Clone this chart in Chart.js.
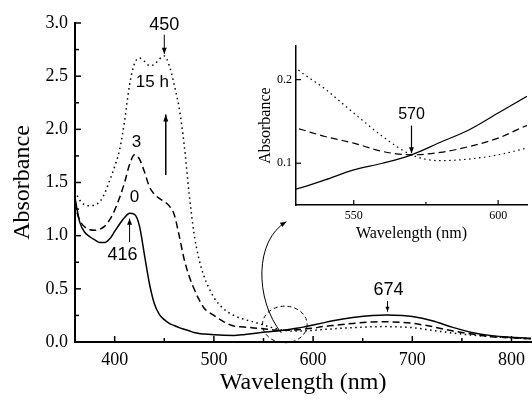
<!DOCTYPE html>
<html>
<head>
<meta charset="utf-8">
<script src="https://cdn.jsdelivr.net/npm/chart.js@4.4.1/dist/chart.umd.min.js"></script>
<style>
  html, body { margin: 0; padding: 0; background: #fff; }
  #wrap { position: relative; width: 532px; height: 404px; overflow: hidden; }
  #mainChart { position: absolute; left: 0; top: 0; }
  #insetChart { position: absolute; left: 250px; top: 35px; }
</style>
</head>
<body>
<div id="wrap">
  <canvas id="mainChart" width="532" height="404"></canvas>
  <canvas id="insetChart" width="282" height="212"></canvas>
</div>
<script>
// --- DATA ---
const wavelength = [360, 362, 365, 370, 375, 380, 385, 390, 395, 400, 405, 410, 415, 420, 425, 430, 435, 440, 445, 450,
  455, 460, 465, 470, 475, 480, 485, 490, 500, 510, 520, 530, 540, 550, 560, 570, 580, 590, 600, 610,
  620, 640, 660, 674, 690, 700, 720, 740, 760, 780, 800, 820];

// 0 h (solid)
const abs0h = [1.36, 1.25, 1.12, 1.03, 0.99, 0.96, 0.935, 0.935, 0.97, 1.04, 1.11, 1.17, 1.21, 1.2, 1.09, 0.82, 0.55, 0.36, 0.26, 0.21,
  0.175, 0.155, 0.135, 0.12, 0.105, 0.09, 0.08, 0.075, 0.068, 0.063, 0.062, 0.069, 0.08, 0.092, 0.1, 0.11, 0.125, 0.14, 0.16, 0.18,
  0.2, 0.23, 0.25, 0.255, 0.25, 0.24, 0.2, 0.14, 0.09, 0.06, 0.045, 0.035];

// 3 h (dashed)
const abs3h = [1.32, 1.22, 1.14, 1.08, 1.055, 1.05, 1.06, 1.09, 1.15, 1.24, 1.36, 1.5, 1.67, 1.76, 1.72, 1.6, 1.46, 1.39, 1.35, 1.32,
  1.28, 1.2, 1.0, 0.78, 0.62, 0.5, 0.4, 0.32, 0.25, 0.19, 0.15, 0.142, 0.132, 0.124, 0.114, 0.11, 0.113, 0.12, 0.13, 0.145,
  0.155, 0.175, 0.188, 0.19, 0.185, 0.176, 0.145, 0.105, 0.075, 0.05, 0.04, 0.03];

// 15 h (dotted)
const abs15h = [1.42, 1.38, 1.33, 1.29, 1.28, 1.29, 1.32, 1.4, 1.52, 1.65, 1.81, 2.08, 2.42, 2.62, 2.67, 2.64, 2.6, 2.61, 2.66, 2.69,
  2.6, 2.42, 2.2, 1.86, 1.4, 1.02, 0.78, 0.62, 0.42, 0.31, 0.25, 0.214, 0.189, 0.16, 0.132, 0.11, 0.103, 0.105, 0.11, 0.118,
  0.124, 0.135, 0.143, 0.145, 0.14, 0.135, 0.11, 0.085, 0.065, 0.05, 0.04, 0.03];

const xTicks = [400, 500, 600, 700, 800];
const xMinorTicks = [450, 550, 650, 750];
const yTicks = [0, 0.5, 1, 1.5, 2, 2.5, 3];
const yMinorTicks = [0.25, 0.75, 1.25, 1.75, 2.25, 2.75];

const insetXTicks = [550, 600];
const insetXMinorTicks = [575];
const insetYTicks = [0.1, 0.2];

const SERIF = "'Liberation Serif', 'Times New Roman', serif";
const SANS = "'Liberation Sans', Arial, sans-serif";

function pts(ys) {
  return wavelength.map((w, i) => ({ x: w, y: ys[i] }));
}

function makeDatasets(width) {
  return [
    { label: '0 h', data: pts(abs0h), borderColor: '#000', borderWidth: width, borderDash: [] },
    { label: '3 h', data: pts(abs3h), borderColor: '#000', borderWidth: width, borderDash: [7, 4] },
    { label: '15 h', data: pts(abs15h), borderColor: '#000', borderWidth: width, borderDash: [1.5, 3.5] }
  ].map(d => Object.assign(d, { pointRadius: 0, cubicInterpolationMode: 'monotone', fill: false }));
}

// small filled arrowhead at (x2, y2)
function arrow(ctx, x1, y1, x2, y2, len, half) {
  ctx.beginPath();
  ctx.moveTo(x1, y1);
  ctx.lineTo(x2, y2);
  ctx.stroke();
  const a = Math.atan2(y2 - y1, x2 - x1);
  ctx.beginPath();
  ctx.moveTo(x2, y2);
  ctx.lineTo(x2 - len * Math.cos(a) + half * Math.sin(a), y2 - len * Math.sin(a) - half * Math.cos(a));
  ctx.lineTo(x2 - len * Math.cos(a) - half * Math.sin(a), y2 - len * Math.sin(a) + half * Math.cos(a));
  ctx.closePath();
  ctx.fill();
}

// ticks pointing into the plot, like the original figure
const inwardTicks = {
  id: 'inwardTicks',
  afterDraw(chart, args, o) {
    const { ctx, chartArea, scales } = chart;
    ctx.save();
    ctx.strokeStyle = '#000';
    ctx.lineWidth = o.width;
    const xs = (vals, len) => vals.forEach(v => {
      const p = scales.x.getPixelForValue(v);
      ctx.beginPath(); ctx.moveTo(p, chartArea.bottom); ctx.lineTo(p, chartArea.bottom - len); ctx.stroke();
    });
    const ys = (vals, len) => vals.forEach(v => {
      const p = scales.y.getPixelForValue(v);
      ctx.beginPath(); ctx.moveTo(chartArea.left, p); ctx.lineTo(chartArea.left + len, p); ctx.stroke();
    });
    xs(o.xMajor || [], o.major);
    xs(o.xMinor || [], o.minor);
    ys(o.yMajor || [], o.major);
    ys(o.yMinor || [], o.minor);
    ctx.restore();
  }
};

// labels and arrows of the main plot
const mainNotes = {
  id: 'mainNotes',
  afterDatasetsDraw(chart) {
    const { ctx, scales: { x, y } } = chart;
    const px = v => x.getPixelForValue(v);
    const py = v => y.getPixelForValue(v);
    ctx.save();
    ctx.fillStyle = '#000';
    ctx.strokeStyle = '#000';
    ctx.lineWidth = 1;
    ctx.textAlign = 'center';
    ctx.textBaseline = 'middle';

    ctx.font = '18px ' + SANS;
    ctx.fillText('450', px(450), py(2.98));
    arrow(ctx, px(450), py(2.89), px(450), py(2.71), 6, 2.5);

    ctx.font = '17px ' + SANS;
    ctx.fillText('15 h', px(438), py(2.44));
    ctx.fillText('3', px(422), py(1.88));
    ctx.fillText('0', px(420), py(1.36));

    ctx.lineWidth = 1.5;
    arrow(ctx, px(451.5), py(1.57), px(451.5), py(2.14), 7, 2.5);
    ctx.lineWidth = 1;

    ctx.font = '18px ' + SANS;
    ctx.fillText('416', px(408), py(0.82));
    arrow(ctx, px(415), py(0.94), px(415), py(1.16), 6, 2.5);

    ctx.fillText('674', px(676), py(0.49));
    arrow(ctx, px(675), py(0.385), px(675), py(0.285), 5, 2);

    // dashed circle round the isosbestic point
    ctx.setLineDash([4, 3]);
    const cx = px(571.5), cy = py(0.165);
    ctx.beginPath();
    ctx.ellipse(cx, cy, px(594) - cx, py(0) - py(0.172), 0, 0, Math.PI * 2);
    ctx.stroke();
    ctx.setLineDash([]);

    // curved arrow up to the inset
    const p0 = [px(568), py(0.085)], p1 = [px(541), py(0.40)], p2 = [px(541), py(0.96)], p3 = [px(573), py(1.13)];
    ctx.beginPath();
    ctx.moveTo(p0[0], p0[1]);
    ctx.bezierCurveTo(p1[0], p1[1], p2[0], p2[1], p3[0], p3[1]);
    ctx.stroke();
    arrow(ctx, p3[0] - 3 * (p3[0] - p2[0]) / 20, p3[1] - 3 * (p3[1] - p2[1]) / 20, p3[0], p3[1], 6, 2.5);
    ctx.restore();
  }
};

const insetNotes = {
  id: 'insetNotes',
  afterDatasetsDraw(chart) {
    const { ctx, scales: { x, y } } = chart;
    ctx.save();
    ctx.fillStyle = '#000';
    ctx.strokeStyle = '#000';
    ctx.lineWidth = 1.2;
    ctx.textAlign = 'center';
    ctx.textBaseline = 'middle';
    ctx.font = '16px ' + SANS;
    ctx.fillText('570', x.getPixelForValue(570), y.getPixelForValue(0.158));
    arrow(ctx, x.getPixelForValue(570), y.getPixelForValue(0.145), x.getPixelForValue(570), y.getPixelForValue(0.112), 6, 2.5);
    ctx.restore();
  }
};

const noGrid = { drawOnChartArea: false, drawTicks: false };

// --- MAIN CHART ---
new Chart(document.getElementById('mainChart'), {
  type: 'line',
  data: { datasets: makeDatasets(1.5) },
  plugins: [inwardTicks, mainNotes],
  options: {
    responsive: false,
    animation: false,
    devicePixelRatio: 1,
    layout: { padding: { top: 23, right: 0, left: 0, bottom: 0 } },
    plugins: {
      legend: { display: false },
      tooltip: { enabled: false },
      inwardTicks: { xMajor: xTicks, xMinor: xMinorTicks, yMajor: yTicks, yMinor: yMinorTicks, major: 6, minor: 4, width: 1.5 }
    },
    scales: {
      x: {
        type: 'linear',
        min: 360,
        max: 820,
        grid: noGrid,
        border: { display: true, color: '#000', width: 2 },
        afterBuildTicks: s => { s.ticks = xTicks.map(v => ({ value: v })); },
        afterFit: s => { s.height = 62; },
        ticks: { color: '#000', padding: 7, maxRotation: 0, font: { family: SERIF, size: 18 } },
        title: { display: true, text: 'Wavelength (nm)', color: '#000', padding: { top: 0, bottom: 7 }, font: { family: SERIF, size: 24 } }
      },
      y: {
        min: 0,
        max: 3,
        grid: noGrid,
        border: { display: true, color: '#000', width: 2 },
        afterBuildTicks: s => { s.ticks = yTicks.map(v => ({ value: v })); },
        afterFit: s => { s.width = 75; },
        ticks: { color: '#000', padding: 7, font: { family: SERIF, size: 18 }, callback: v => v.toFixed(1) },
        title: { display: true, text: 'Absorbance', color: '#000', padding: { top: 8, bottom: 0 }, font: { family: SERIF, size: 24 } }
      }
    }
  }
});

// --- INSET (zoom round 570 nm) ---
new Chart(document.getElementById('insetChart'), {
  type: 'line',
  data: { datasets: makeDatasets(1.2) },
  plugins: [inwardTicks, insetNotes],
  options: {
    responsive: false,
    animation: false,
    devicePixelRatio: 1,
    layout: { padding: { top: 10, right: 5, left: 0, bottom: 0 } },
    plugins: {
      legend: { display: false },
      tooltip: { enabled: false },
      inwardTicks: { xMajor: insetXTicks, xMinor: insetXMinorTicks, yMajor: insetYTicks, major: 5, minor: 3, width: 1.2 }
    },
    scales: {
      x: {
        type: 'linear',
        min: 530,
        max: 610,
        grid: noGrid,
        border: { display: true, color: '#000', width: 1.5 },
        afterBuildTicks: s => { s.ticks = insetXTicks.map(v => ({ value: v })); },
        afterFit: s => { s.height = 42; },
        ticks: { color: '#000', padding: 4, maxRotation: 0, font: { family: SERIF, size: 12 } },
        title: { display: true, text: 'Wavelength (nm)', color: '#000', padding: { top: 0, bottom: 4 }, font: { family: SERIF, size: 16 } }
      },
      y: {
        min: 0.05,
        max: 0.24,
        grid: noGrid,
        border: { display: true, color: '#000', width: 1.5 },
        afterBuildTicks: s => { s.ticks = insetYTicks.map(v => ({ value: v })); },
        afterFit: s => { s.width = 46; },
        ticks: { color: '#000', padding: 4, font: { family: SERIF, size: 12 }, callback: v => v.toFixed(1) },
        title: { display: true, text: 'Absorbance', color: '#000', padding: { top: 6, bottom: 0 }, font: { family: SERIF, size: 16 } }
      }
    }
  }
});
</script>
</body>
</html>
